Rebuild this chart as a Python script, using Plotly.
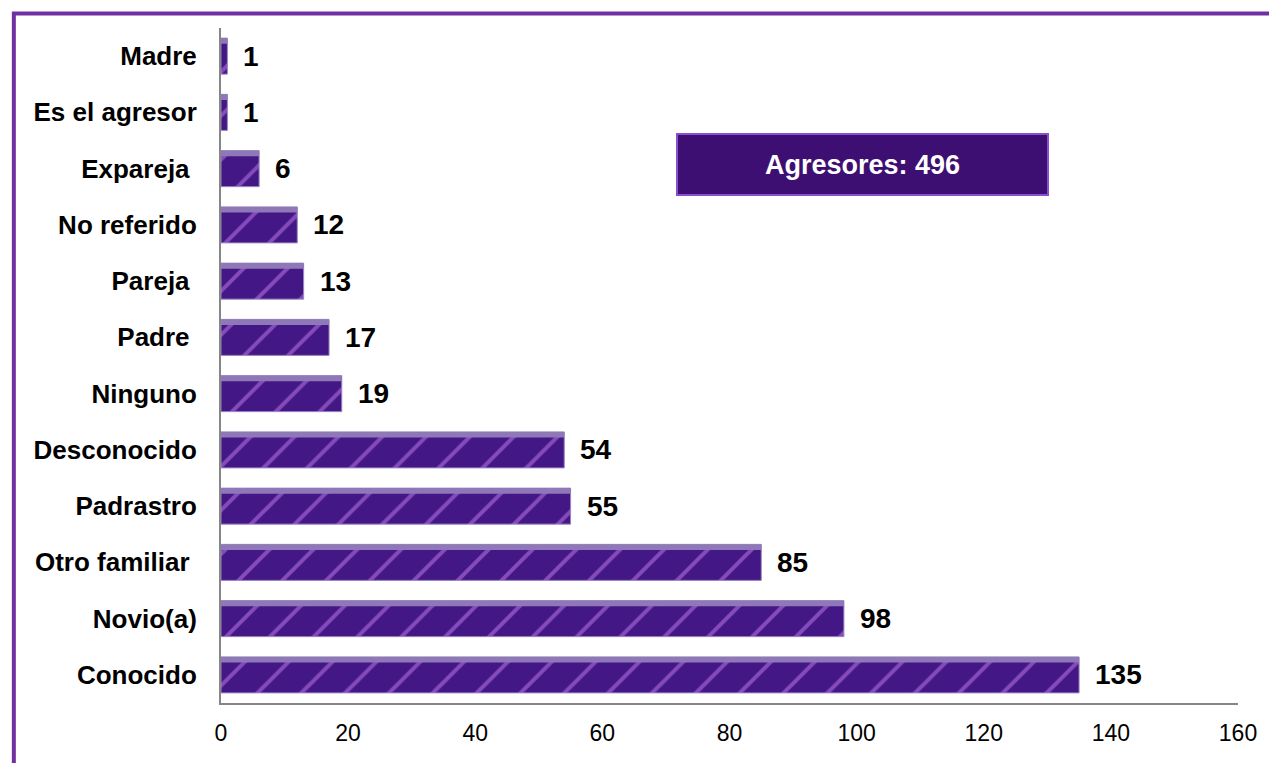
import plotly.graph_objects as go

categories = ["Conocido", "Novio(a)", "Otro familiar\u00a0", "Padrastro", "Desconocido",
              "Ninguno", "Padre\u00a0", "Pareja\u00a0", "No referido", "Expareja\u00a0",
              "Es el agresor", "Madre"]
values = [135, 98, 85, 55, 54, 19, 17, 13, 12, 6, 1, 1]
box_text = "Agresores: 496"

FONT = "Arial, Liberation Sans, sans-serif"

fig = go.Figure()
# main textured bar
fig.add_trace(go.Bar(
    y=categories, x=values, orientation="h", width=0.64,
    marker=dict(color="#431785", line=dict(color="#9a86bf", width=1),
                pattern=dict(shape="/", fgcolor="#c97ff0", bgcolor="#431785",
                             size=31, solidity=0.13)),
    hoverinfo="x+y",
))
# lighter top bevel band
fig.add_trace(go.Bar(
    y=categories, x=values, orientation="h", width=0.1, offset=0.22,
    marker=dict(color="#8f78b8", line=dict(width=0)),
    hoverinfo="skip",
))

for c, v in zip(categories, values):
    fig.add_annotation(x=v, y=c, text="<b>%d</b>" % v, showarrow=False,
                       xanchor="left", xshift=14,
                       font=dict(family=FONT, size=28, color="black"))

fig.add_annotation(x=101.0, y=0.7985, xref="x", yref="paper", xanchor="center",
                   yanchor="middle", text="<b>" + box_text + "</b>",
                   showarrow=False, width=367, height=57, bgcolor="#3d0f72",
                   bordercolor="#8a4fcf", borderwidth=2,
                   font=dict(family=FONT, size=27, color="white"))

fig.add_shape(type="rect", xref="paper", yref="paper",
              x0=-0.2037, x1=1.06, y0=-0.25, y1=1.0215,
              line=dict(color="#7030a0", width=4), fillcolor="rgba(0,0,0,0)", layer="above")

fig.update_layout(
    width=1261, height=755,
    margin=dict(l=213, r=22, t=20, b=60),
    plot_bgcolor="white", paper_bgcolor="white",
    showlegend=False, barmode="overlay",
    font=dict(family=FONT, color="black"),
    xaxis=dict(range=[0, 160], dtick=20, tick0=0, showgrid=False, zeroline=False,
               showline=True, linecolor="#868686", linewidth=2,
               ticks="", tickfont=dict(size=23), ticklabelstandoff=8),
    yaxis=dict(showgrid=False, showline=True, linecolor="#868686", linewidth=2,
               ticks="", tickfont=dict(size=26, family=FONT),
               ticklabelstandoff=17, tickprefix="<b>", ticksuffix="</b>"),
)

fig.write_html("out.html")
